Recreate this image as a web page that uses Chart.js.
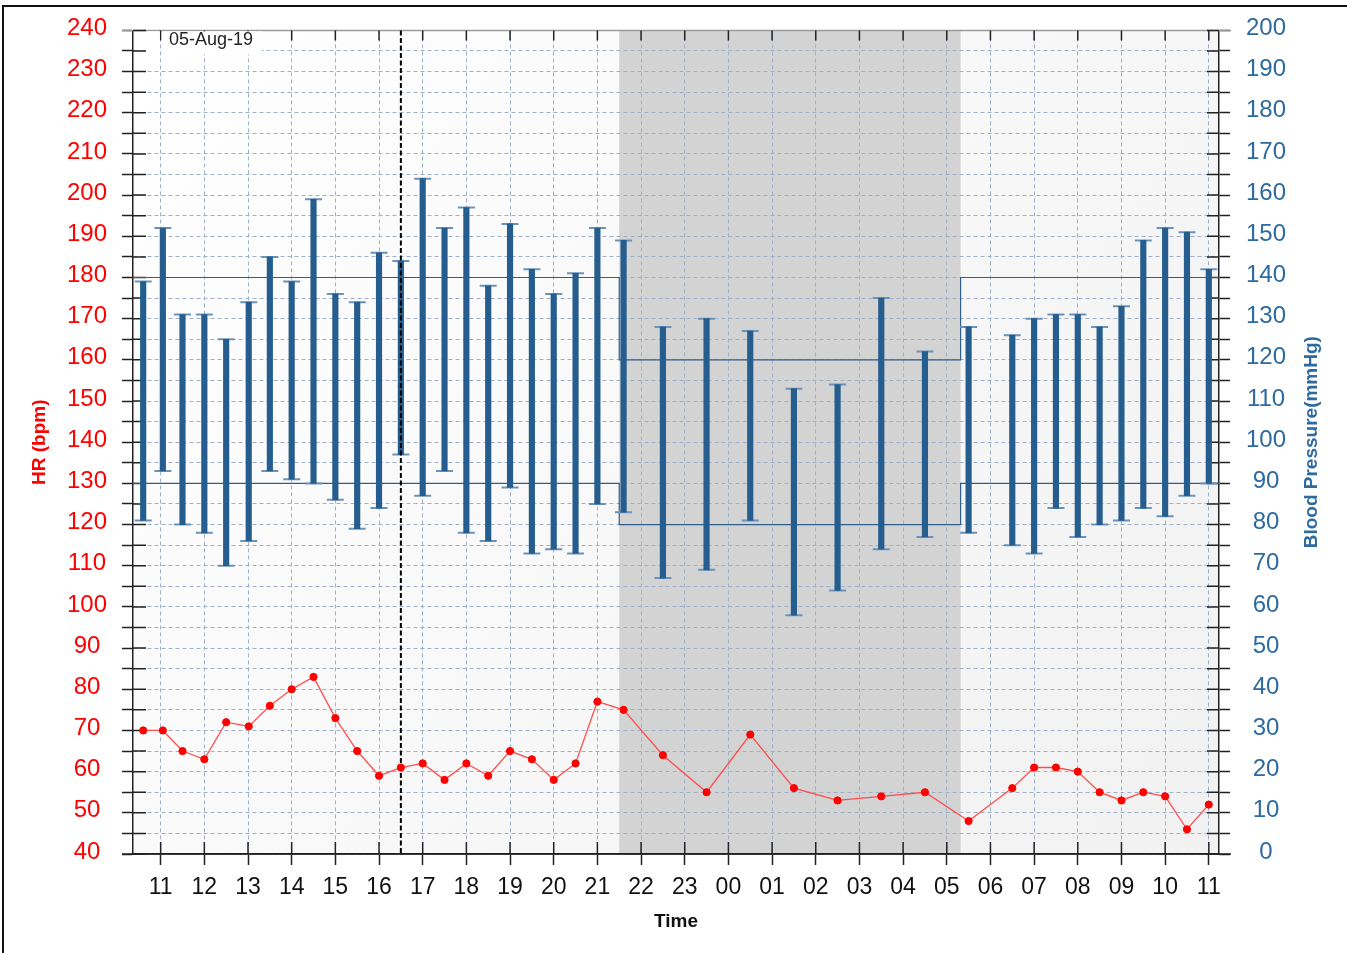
<!DOCTYPE html>
<html>
<head>
<meta charset="utf-8">
<script src="https://cdn.jsdelivr.net/npm/chart.js@4.4.1/dist/chart.umd.min.js"></script>
<style>
html,body{margin:0;padding:0;background:#fff;}
#wrap{position:relative;width:1347px;height:953px;overflow:hidden;}
#frameTop{position:absolute;left:2px;top:5px;width:1345px;height:2px;background:#111;}
#frameLeft{position:absolute;left:2px;top:5px;width:2px;height:948px;background:#111;}
</style>
</head>
<body>
<div id="wrap">
  <canvas id="c" width="1347" height="953"></canvas>
  <div id="frameTop"></div><div id="frameLeft"></div>
</div>
<script>
// readings (time of each measurement, 05-Aug-19 -> 06-Aug)
const times = ["10:36","11:03","11:30","12:00","12:30","13:01","13:30","14:00","14:30","15:00",
  "15:30","16:00","16:30","17:00","17:30","18:00","18:30","19:00","19:30","20:00",
  "20:30","21:00","21:36","22:30","23:30","00:30","01:30","02:30","03:30","04:30",
  "05:30","06:30","07:00","07:30","08:00","08:30","09:00","09:30","10:00","10:30","11:00"];
const sys = [139,152,131,131,125,134,145,139,159,136,134,146,144,164,152,157,138,153,142,136,
  141,152,149,128,130,127,113,114,135,122,128,126,130,131,131,128,133,149,152,151,142];
const dia = [81,93,80,78,70,76,93,91,90,86,79,84,97,87,93,78,76,89,73,74,
  73,85,83,67,69,81,58,64,74,77,78,75,73,84,77,80,81,84,82,87,90];
const hr = [70,70,65,63,72,71,76,80,83,73,65,59,61,62,58,62,59,65,63,58,
  62,77,75,64,55,69,56,53,54,55,48,56,61,61,60,55,53,55,54,46,52];

// day / night limits (mmHg)
const sysLimit = [140,120,140,140];
const diaLimit = [90,80,90,90];

const START = "10:22", MARK = "16:30", NIGHT_FROM = "21:30", NIGHT_TO = "05:19", END = "11:14";
const DATE_LABEL = "05-Aug-19";

const FONT = "'Liberation Sans', Arial, sans-serif";
const GRID = "#9fb0c8";
const AXIS = "#222";
const BP_BLUE = "#2c6aa0";

// "HH:MM" list -> hours, rolling over to next day when time goes backwards
function toHours(list){
  let day = 0, prev = -1;
  return list.map(s => {
    const [h, m] = s.split(":").map(Number);
    let v = h + m/60 + day;
    if(v < prev){ day += 24; v += 24; }
    prev = v;
    return v;
  });
}

const t = toHours(times);
const [tStart, tMark, tNightFrom, tNightTo, tEnd] = toHours([START, MARK, NIGHT_FROM, NIGHT_TO, END]);
const limitT = [tStart, tNightFrom, tNightTo, tEnd];

const decor = {
  id: "decor",
  beforeDraw(chart){
    const {ctx, chartArea: a, scales: {x}} = chart;
    ctx.save();
    const g = ctx.createLinearGradient(a.left, a.top, a.right, a.bottom);
    g.addColorStop(0, "#ffffff"); g.addColorStop(1, "#f1f1f1");
    ctx.fillStyle = g;
    ctx.fillRect(a.left, a.top, a.right - a.left, a.bottom - a.top);
    const n1 = x.getPixelForValue(tNightFrom), n2 = x.getPixelForValue(tNightTo);
    ctx.fillStyle = "#d3d3d3";
    ctx.fillRect(n1, a.top, n2 - n1, a.bottom - a.top);
    ctx.restore();
  },
  beforeDatasetsDraw(chart){
    const {ctx, chartArea: a, scales: {x, yHR}} = chart;
    ctx.save();
    // top frame line + axis extensions
    ctx.lineWidth = 1.5;
    ctx.strokeStyle = "#9a9a9a";
    ctx.beginPath(); ctx.moveTo(a.left - 11, a.top); ctx.lineTo(a.right + 12, a.top); ctx.stroke();
    ctx.strokeStyle = AXIS;
    ctx.beginPath(); ctx.moveTo(a.left - 11, a.bottom); ctx.lineTo(a.right + 12, a.bottom); ctx.stroke();

    // inner tick marks
    ctx.beginPath();
    yHR.ticks.forEach(tk => {
      const y = yHR.getPixelForValue(tk.value);
      ctx.moveTo(a.left, y); ctx.lineTo(a.left + 13, y);
      ctx.moveTo(a.right - 12, y); ctx.lineTo(a.right, y);
    });
    x.ticks.forEach(tk => {
      const px = x.getPixelForValue(tk.value);
      ctx.moveTo(px, a.bottom); ctx.lineTo(px, a.bottom - 12);
      ctx.moveTo(px, a.top); ctx.lineTo(px, a.top + 10);
    });
    ctx.stroke();

    // date label box (leaves the first hour line visible)
    const gx = x.getPixelForValue(Math.ceil(tStart));
    ctx.fillStyle = "#fff";
    ctx.fillRect(a.left + 14, a.top + 1, gx - 1 - (a.left + 14), 23);
    ctx.fillRect(gx + 1, a.top + 1, a.left + 128 - gx, 23);
    ctx.fillStyle = "#222";
    ctx.font = "18px " + FONT;
    ctx.textBaseline = "middle";
    ctx.fillText(DATE_LABEL, a.left + 36, a.top + 10);
    ctx.restore();
  },
  afterDatasetDraw(chart, args){
    if(args.index !== 1) return;
    const {ctx, chartArea: a, scales: {x}} = chart;
    const px = x.getPixelForValue(tMark);
    ctx.save();
    ctx.strokeStyle = "#000";
    ctx.lineWidth = 2;
    ctx.setLineDash([5, 2.5]);
    ctx.beginPath(); ctx.moveTo(px, a.top); ctx.lineTo(px, a.bottom); ctx.stroke();
    ctx.restore();
  },
  afterDraw(chart){
    const {ctx, chartArea: a} = chart;
    ctx.save();
    ctx.translate(a.right + 92.5, (a.top + a.bottom)/2);
    ctx.rotate(-Math.PI/2);
    ctx.fillStyle = BP_BLUE;
    ctx.font = "bold 19px " + FONT;
    ctx.textAlign = "center";
    ctx.textBaseline = "middle";
    ctx.fillText("Blood Pressure(mmHg)", 0, 0);
    ctx.restore();
  }
};

function yScale(pos, min, max, color, widthPx, onArea){
  return {
    type: "linear", position: pos, min: min, max: max,
    afterFit(s){ s.width = widthPx; },
    grid: { display: true, drawOnChartArea: onArea, color: GRID, lineWidth: 1,
            tickLength: 11, tickColor: AXIS, tickWidth: 1.5, tickBorderDash: [] },
    border: { display: true, color: AXIS, width: 1.5, dash: [4, 3] },
    ticks: { stepSize: 5, autoSkip: false, crossAlign: "center", padding: pos === "left" ? 15 : 16,
             labelOffset: -2, color: color, font: { family: FONT, size: 24 },
             callback: v => v % 10 === 0 ? String(v) : "" }
  };
}

const scaleHR = yScale("left", 40, 240, "#ff0000", 133, true);
scaleHR.title = { display: true, text: "HR (bpm)", color: "#ff0000",
  font: { family: FONT, size: 19, weight: "bold" }, padding: { top: 28, bottom: 0 } };
const scaleBP = yScale("right", 0, 200, BP_BLUE, 128, false);

new Chart(document.getElementById("c"), {
  type: "line",
  data: {
    datasets: [
      { type: "line", label: "HR", yAxisID: "yHR", order: 0,
        data: t.map((v, i) => ({ x: v, y: hr[i] })),
        borderColor: "#ff4d4d", borderWidth: 1.3, tension: 0,
        pointRadius: 3.6, pointBorderWidth: 1, pointBackgroundColor: "#ff0000", pointBorderColor: "#ff0000" },
      { type: "bar", label: "BP", yAxisID: "yBP", order: 1,
        data: t.map((v, i) => ({ x: v, y: [dia[i], sys[i]] })),
        backgroundColor: "#255d8e", borderWidth: 0, barThickness: 5.5, grouped: false },
      { type: "line", label: "sys cap", yAxisID: "yBP", order: 2, showLine: false,
        data: t.map((v, i) => ({ x: v, y: sys[i] })),
        pointStyle: "line", pointRadius: 8.5, pointBorderWidth: 2, pointBorderColor: "#6a93bb" },
      { type: "line", label: "dia cap", yAxisID: "yBP", order: 2, showLine: false,
        data: t.map((v, i) => ({ x: v, y: dia[i] })),
        pointStyle: "line", pointRadius: 8.5, pointBorderWidth: 2, pointBorderColor: "#6a93bb" },
      { type: "line", label: "sys limit", yAxisID: "yBP", order: 3, stepped: true,
        data: limitT.map((v, i) => ({ x: v, y: sysLimit[i] })),
        borderColor: "#2f5f8c", borderWidth: 1.2, pointRadius: 0 },
      { type: "line", label: "dia limit", yAxisID: "yBP", order: 3, stepped: true,
        data: limitT.map((v, i) => ({ x: v, y: diaLimit[i] })),
        borderColor: "#2f5f8c", borderWidth: 1.2, pointRadius: 0 }
    ]
  },
  options: {
    responsive: false,
    animation: false,
    events: [],
    layout: { padding: { top: 28, left: 0, right: 0, bottom: 0 } },
    plugins: { legend: { display: false }, tooltip: { enabled: false } },
    scales: {
      x: {
        type: "linear", min: tStart, max: tEnd, offset: false,
        afterFit(s){ s.height = 99; },
        afterBuildTicks(s){
          const tk = [];
          for(let h = Math.ceil(tStart); h <= Math.floor(tEnd); h++) tk.push({ value: h });
          s.ticks = tk;
        },
        grid: { color: GRID, lineWidth: 1, offset: false, tickLength: 11,
                tickColor: AXIS, tickWidth: 1.5, tickBorderDash: [] },
        border: { display: true, color: AXIS, width: 1.5, dash: [4, 3] },
        ticks: { autoSkip: false, maxRotation: 0, padding: 9, color: "#111",
                 font: { family: FONT, size: 23 },
                 callback: v => String(v % 24).padStart(2, "0") },
        title: { display: true, text: "Time", color: "#111",
                 font: { family: FONT, size: 19, weight: "bold" }, padding: { top: 4, bottom: 20 } }
      },
      yHR: scaleHR,
      yBP: scaleBP
    }
  },
  plugins: [decor]
});
</script>
</body>
</html>
